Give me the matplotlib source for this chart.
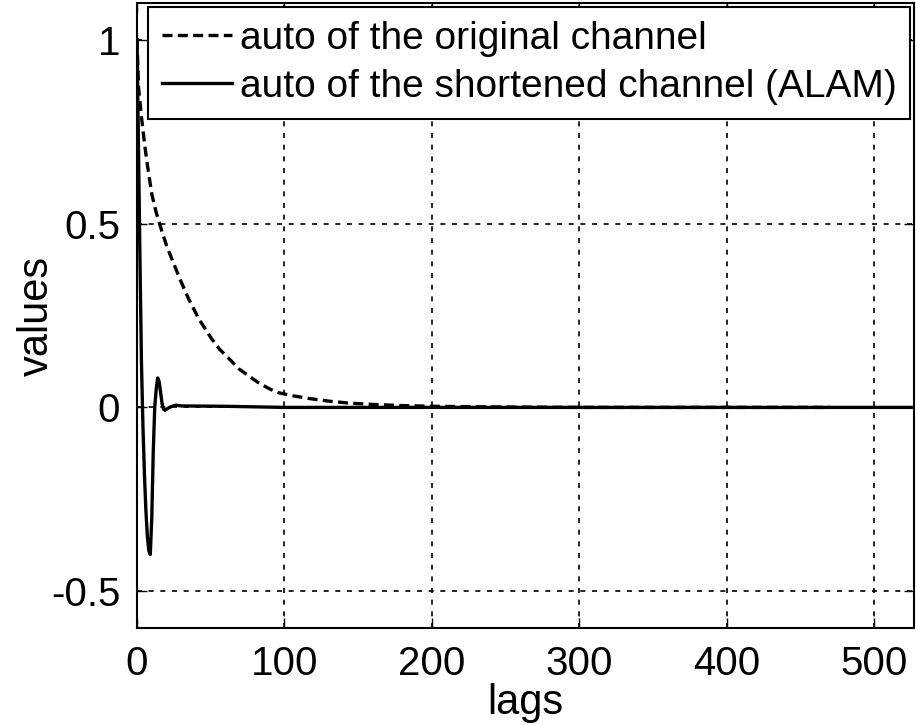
"""
원 채널 / 단축 채널(ALAM) 자기상관 비교 플롯.
"""
import matplotlib.pyplot as plt

# 원 채널 자기상관 (dashed)
orig_lags = [0, 1, 3, 5, 7, 10, 13, 16, 20, 24, 29, 35, 42, 50, 56, 63, 69, 76, 82,
             90, 96, 105, 117, 130, 143, 160, 180, 200, 250, 300, 470]
orig_vals = [1.0, 0.87, 0.79, 0.72, 0.66, 0.58, 0.53, 0.49, 0.44, 0.40, 0.35, 0.295,
             0.24, 0.19, 0.158, 0.13, 0.105, 0.085, 0.068, 0.05, 0.04, 0.032, 0.024,
             0.017, 0.012, 0.008, 0.005, 0.003, 0.001, 0.0, 0.0]

# 단축 채널 자기상관 (solid)
short_lags = [0, 1, 2, 3, 4, 5, 6, 7, 8, 9, 10, 11, 12, 13, 14, 15, 16, 17, 18,
              19, 20, 22, 26, 30, 60, 100, 525]
short_vals = [1.0, 0.7, 0.4, 0.12, -0.05, -0.18, -0.28, -0.35, -0.39, -0.40,
              -0.30, -0.12, 0.0, 0.05, 0.08, 0.07, 0.04, 0.01, -0.005, -0.008,
              -0.005, 0.0, 0.006, 0.004, 0.003, 0.0, 0.0]

LABELS = ['auto of the original channel', 'auto of the shortened channel (ALAM)']
X_TICKS = [0, 100, 200, 300, 400, 500]
Y_TICKS = [-0.5, 0, 0.5, 1]
Y_TICK_LABELS = ['-0.5', '0', '0.5', '1']

plt.rcParams['font.family'] = ['Liberation Sans', 'DejaVu Sans']

fig = plt.figure(figsize=(9.16, 7.25), dpi=100)
ax = fig.add_axes([0.1496, 0.1338, 0.8484, 0.8621])

ax.plot(orig_lags, orig_vals, color='black', lw=2.4, dashes=(3, 1.6), label=LABELS[0])
ax.plot(short_lags, short_vals, color='black', lw=2.4, label=LABELS[1])

ax.set_xlim(0, 527)
ax.set_ylim(-0.6, 1.1)
ax.set_xticks(X_TICKS)
ax.set_yticks(Y_TICKS)
ax.set_yticklabels(Y_TICK_LABELS)
ax.tick_params(direction='in', length=7, width=1, labelsize=29, pad=12,
               top=True, right=True)
ax.grid(True, color='black', lw=1.2, linestyle=(0, (3, 4)))
for s in ax.spines.values():
    s.set_linewidth(1.5)

ax.set_xlabel('lags', fontsize=30, labelpad=0)
ax.set_ylabel('values', fontsize=30, labelpad=-4)

leg = ax.legend(loc='upper right', fontsize=28, fancybox=False, framealpha=1,
                edgecolor='black', borderaxespad=0.1, handlelength=1.8,
                handletextpad=0.2, borderpad=0.36, labelspacing=0.3)
leg.get_frame().set_linewidth(1.5)

plt.savefig('out.png', dpi=100)
plt.close()
